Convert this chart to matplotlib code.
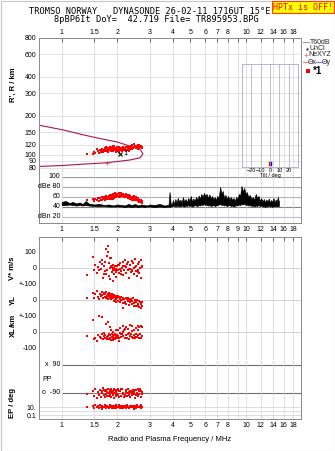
import matplotlib
matplotlib.use('Agg')
import numpy as np
import matplotlib.pyplot as plt
from matplotlib.ticker import NullLocator
from matplotlib.patches import Rectangle

plt.rcParams['font.family'] = ['Liberation Sans', 'DejaVu Sans']

W, H = 335, 451

################################
# data
freq_ticks = [1, 1.5, 2, 3, 4, 5, 6, 7, 8, 9, 10, 12, 14, 16, 18]
freq_labels = ['1', '1.5', '2', '3', '4', '5', '6', '7', '8', '9', '10', '12', '14', '16', '18']
range_ticks = [80, 90, 100, 120, 150, 200, 300, 400, 600, 800]
db_levels = [100, 80, 60, 40, 20]
db_labels = ['100', 'dBe 80', '60', '40', 'dBn 20']

# model profile (maroon curve)
prof_f = [0.75, 1.02, 1.31, 1.61, 2.00, 2.35, 2.66, 2.76, 2.66, 2.35, 2.00, 1.68, 1.31, 1.02, 0.75]
prof_r = [170, 156, 143, 134, 126, 117, 111, 102, 95, 91.5, 89, 86.7, 85, 83, 81.5]

# echoes (one entry per echo)
echo_f = [1.37, 1.47, 1.49, 1.52, 1.55, 1.58, 1.60, 1.62, 1.63, 1.65,
          1.66, 1.68, 1.70, 1.71, 1.72, 1.74, 1.75, 1.76, 1.78, 1.79,
          1.80, 1.81, 1.82, 1.83, 1.84, 1.85, 1.86, 1.87, 1.88, 1.89,
          1.90, 1.91, 1.92, 1.93, 1.94, 1.95, 1.96, 1.97, 1.98, 1.99,
          2.00, 2.02, 2.04, 2.06, 2.08, 2.10, 2.12, 2.14, 2.16, 2.18,
          2.20, 2.22, 2.24, 2.26, 2.28, 2.30, 2.32, 2.34, 2.36, 2.38,
          2.40, 2.42, 2.44, 2.46, 2.48, 2.50, 2.52, 2.54, 2.56, 2.58,
          2.60, 2.62, 2.64, 2.66, 2.68, 2.70, 2.72, 2.74, 1.69, 1.77,
          1.91, 2.01, 2.11, 2.21, 2.31, 2.41, 2.51, 2.61, 2.05, 2.15]
echo_r = [102, 102, 106, 104, 111, 108, 104, 110, 106, 108,
          112, 105, 109, 113, 107, 111, 115, 108, 112, 106,
          110, 114, 109, 116, 112, 107, 111, 115, 109, 113,
          108, 112, 117, 110, 114, 109, 113, 106, 111, 115,
          108, 110, 106, 112, 109, 114, 107, 111, 115, 109,
          112, 108, 116, 110, 113, 118, 111, 115, 112, 117,
          114, 119, 113, 116, 121, 115, 118, 114, 117, 120,
          116, 113, 119, 115, 118, 117, 114, 116, 108, 113,
          118, 113, 110, 114, 108, 112, 117, 112, 116, 113]
echo_amp = [54, 55, 51, 56, 53, 58, 52, 57, 54, 59,
            53, 58, 55, 60, 54, 57, 61, 55, 59, 56,
            62, 57, 60, 55, 63, 58, 61, 56, 64, 59,
            61, 66, 58, 63, 60, 67, 62, 59, 65, 61,
            66, 61, 68, 63, 60, 67, 64, 61, 66, 59,
            64, 59, 66, 61, 57, 63, 60, 56, 62, 58,
            60, 55, 58, 62, 54, 57, 53, 59, 55, 52,
            56, 50, 54, 49, 53, 51, 48, 52, 59, 55,
            56, 62, 61, 59, 64, 53, 60, 57, 59, 63]
echo_v = [-45, 67, -10, 20, -30, 5, -15, 40, -5, 25,
          50, -60, 10, -20, 35, -35, 120, -10, 140, 100,
          30, -50, 65, 0, -70, 15, 60, -25, 5, -80,
          -10, 20, -40, 0, -15, 10, -55, -5, -25, 15,
          -10, 20, -30, -5, 30, -20, 0, -45, 10, -15,
          50, -30, 5, 25, -10, 40, -60, -5, 20, -25,
          45, -15, 30, -40, 0, 55, -20, 10, -50, 25,
          -10, 35, -30, 0, 50, -60, 10, 5, -40, 75,
          -5, -15, -35, 15, -5, -20, 5, -25, 20, 35]
echo_yl = [15, 45, 10, 35, 55, 20, 5, 40, 25, 50,
           30, 10, 45, 20, 38, 15, 50, 25, 40, 8,
           28, 45, 12, 20, 35, 5, 25, 38, 15, 30,
           10, 25, -5, 30, 18, 2, 22, 8, -10, 28,
           15, -5, 20, 8, -15, 18, -2, -20, 12, 5,
           -10, 15, -25, 5, -8, 12, -30, 0, -15, 8,
           -5, -25, 10, -18, -35, 0, -12, -40, -2, -22,
           -30, -8, -45, -15, -25, -50, -10, -35, 35, 18,
           28, 22, 0, -20, 5, -28, -5, -40, 20, -50]
echo_xl = [-25, 75, -45, -35, -55, -20, 100, -30, -40, -15,
           95, -45, -25, -35, -20, -40, 50, -30, 60, -25,
           -10, -45, 30, -35, -20, -50, 10, -30, -15, -40,
           -25, 0, -35, -20, -45, -10, -30, 15, -25, -40,
           -20, 10, -35, -5, 25, -30, -15, 40, -25, 10,
           -40, -20, 30, -35, -10, 20, -45, -25, 45, -15,
           -30, 35, -40, -20, 15, -35, -10, 25, -30, 40,
           -20, -35, 30, -15, -40, 35, -25, 30, -5, -45,
           -50, -25, -10, 20, -5, 5, -30, 10, -55, 0]
echo_pp = [-95, -75, -110, -65, -120, -85, -100, -70, -115, -80,
           -90, -60, -105, -78, -118, -68, -98, -84, -112, -62,
           -92, -108, -72, -100, -86, -66, -116, -88, -74, -104,
           -82, -96, -120, -64, -90, -72, -110, -84, -102, -70,
           -94, -62, -114, -80, -76, -108, -66, -96, -88, -118,
           -104, -70, -84, -112, -92, -64, -100, -78, -116, -86,
           -74, -106, -68, -96, -82, -120, -72, -102, -90, -62,
           -110, -80, -94, -66, -114, -76, -98, -86, -70, -108,
           -78, -100, -64, -112, -84, -92, -68, -106, -74, -96]
echo_ep = [12, 20, 6, 30, 9, 15, 5, 25, 10, 4,
           18, 8, 12, 35, 11, 7, 14, 22, 9, 12,
           10, 6, 16, 11, 28, 9, 15, 5, 12, 8,
           11, 20, 10, 7, 14, 12, 40, 11, 6, 10,
           13, 9, 25, 12, 5, 15, 8, 11, 18, 14,
           10, 6, 12, 30, 11, 13, 7, 10, 22, 12,
           8, 14, 10, 4, 17, 9, 12, 6, 24, 13,
           11, 8, 9, 15, 35, 7, 12, 9, 11, 8,
           13, 10, 6, 20, 9, 11, 14, 8, 10, 7]

# noise/interference trace in the amplitude strip
noise_f = [1.00, 1.05, 1.10, 1.15, 1.20, 1.25, 1.30, 1.35, 1.40, 1.50,
           1.60, 1.70, 1.80, 1.90, 2.00, 2.10, 2.20, 2.30, 2.40, 2.50,
           2.60, 2.70, 2.80, 2.90, 3.00, 3.20, 3.40, 3.60, 3.80,
           3.85, 3.90, 3.95, 4.02, 4.08, 4.14, 4.20, 4.27, 4.34, 4.41,
           4.48, 4.55, 4.62, 4.70, 4.78, 4.86, 4.94, 5.02, 5.10, 5.18,
           5.27, 5.36, 5.45, 5.54, 5.63, 5.72, 5.82, 5.92, 6.02, 6.12,
           6.22, 6.33, 6.44, 6.55, 6.66, 6.77, 6.88, 7.00, 7.12, 7.24,
           7.36, 7.48, 7.61, 7.74, 7.87, 8.00, 8.14, 8.28, 8.42, 8.56,
           8.70, 8.85, 9.00, 9.15, 9.30, 9.46, 9.62, 9.78, 9.95, 10.1,
           10.3, 10.5, 10.7, 10.9, 11.1, 11.3, 11.5, 11.7, 11.9, 12.1,
           12.3, 12.5, 12.7, 12.9, 13.1, 13.3, 13.5, 13.7, 13.9, 14.1,
           14.3, 14.5, 14.7, 14.9, 15.1]
noise_lo = [44, 44, 45, 44, 43, 44, 43, 44, 43, 42,
            42, 42, 41, 41, 41, 41, 40, 41, 40, 41,
            40, 41, 40, 41, 41, 40, 41, 40, 41,
            40, 41, 42, 42, 43, 41, 42, 43, 41, 42,
            43, 42, 41, 43, 42, 44, 42, 43, 41, 42,
            44, 43, 42, 44, 43, 45, 44, 46, 44, 45,
            43, 44, 42, 43, 44, 42, 43, 44, 45, 46,
            44, 45, 43, 44, 42, 43, 44, 42, 43, 41,
            42, 44, 43, 45, 44, 46, 45, 47, 44, 45,
            43, 44, 42, 43, 41, 43, 42, 44, 42, 43,
            41, 42, 40, 42, 41, 43, 41, 42, 40, 42,
            41, 43, 41, 42, 42]
noise_hi = [50, 52, 48, 50, 47, 49, 46, 52, 47, 45,
            46, 44, 45, 43, 45, 44, 43, 46, 44, 46,
            43, 45, 44, 43, 45, 44, 46, 43, 44,
            70, 48, 44, 54, 46, 56, 48, 58, 50, 55,
            47, 60, 50, 56, 49, 58, 52, 62, 50, 57,
            52, 60, 54, 63, 56, 66, 60, 68, 62, 66,
            58, 65, 57, 62, 55, 60, 54, 62, 58, 80,
            66, 72, 58, 64, 56, 62, 55, 60, 54, 58,
            52, 60, 56, 66, 62, 82, 70, 78, 66, 70,
            60, 64, 56, 60, 54, 66, 58, 62, 52, 58,
            50, 56, 49, 55, 50, 57, 49, 54, 50, 58,
            48, 55, 50, 60, 50]

# tilt inset (x, y tilt of the *1 echo)
tilt_deg = [-1, 1]
tilt_range = [84, 89]
tilt_ticks = [-20, -10, 0, 10, 20]


def rect(x0, y0, x1, y1):
    return [x0 / W, 1 - y1 / H, (x1 - x0) / W, (y1 - y0) / H]


def freq_axis(ax):
    ax.set_xscale('log')
    ax.set_xlim(0.753, 19.9)
    ax.set_xticks(freq_ticks)
    ax.xaxis.set_minor_locator(NullLocator())
    ax.grid(axis='x', color='#d4d4d4', lw=0.5)
    for s in ax.spines.values():
        s.set_color('#8a8a8a')
        s.set_linewidth(0.7)


fig = plt.figure(figsize=(W / 100, H / 100), dpi=100)

# ---- range panel
ax_r = fig.add_axes(rect(39, 38, 301, 177))
freq_axis(ax_r)
ax_r.set_xticklabels(['' if t == 9 else l for t, l in zip(freq_ticks, freq_labels)])
ax_r.tick_params(axis='x', top=True, labeltop=True, bottom=False, labelbottom=False,
                 direction='in', length=3, width=0.6, color='#555555', labelsize=5, pad=1.5)
ax_r.set_yscale('log')
ax_r.set_ylim(67.6, 800)
ax_r.set_yticks(range_ticks)
ax_r.set_yticklabels([str(t) for t in range_ticks])
ax_r.yaxis.set_minor_locator(NullLocator())
ax_r.tick_params(axis='y', length=0, labelsize=5, pad=2)
ax_r.grid(axis='y', color='#d8d8d8', lw=0.5)
ax_r.spines['bottom'].set_visible(False)
ax_r.plot(prof_f, prof_r, color='#a8184a', lw=0.8, zorder=2)
ax_r.scatter(echo_f, echo_r, s=3, c='red', marker='s', linewidths=0, zorder=3)
ax_r.plot([1.76], [86.7], marker='+', color='#e05090', ms=3, mew=0.7, zorder=3)
ax_r.plot([2.07], [101.8], marker='x', color='black', ms=3, mew=0.8, zorder=4)
ax_r.text(2.16, 101.8, '1', fontsize=5.5, va='center', ha='left', zorder=4)

# ---- amplitude strip
ax_d = fig.add_axes(rect(39, 177, 301, 223))
freq_axis(ax_d)
ax_d.set_xticklabels(freq_labels)
ax_d.tick_params(axis='x', length=0, labelsize=5, pad=2.5)
ax_d.set_ylim(8, 100)
ax_d.set_yticks([])
ax_d.spines['top'].set_visible(False)
db_colors = ['#999999', '#aaaaaa', '#b4b4b4', '#808080', '#b8b8e8']
for lev, lab, c in zip(db_levels, db_labels, db_colors):
    ax_d.plot([1.0, 19.9], [lev, lev], color=c, lw=0.8, zorder=1)
    ax_d.text(0.985, lev, lab, fontsize=5, ha='right', va='center')
ax_d.fill_between(noise_f, noise_lo, noise_hi, color='black', lw=0.5, zorder=2)
ax_d.scatter(echo_f, echo_amp, s=3, c='red', marker='s', linewidths=0, zorder=3)

# ---- tilt inset
ax_t = fig.add_axes(rect(242, 64, 298, 167))
ax_t.patch.set_alpha(0)
ax_t.set_xlim(-30, 30)
ax_t.set_yscale('log')
ax_t.set_ylim(80.8, 506)
ax_t.yaxis.set_major_locator(NullLocator())
ax_t.yaxis.set_minor_locator(NullLocator())
ax_t.set_xticks(tilt_ticks)
ax_t.tick_params(axis='x', length=0, labelsize=4, pad=0.8)
for t in tilt_ticks:
    ax_t.axvline(t, color='#b4b4cc', lw=0.6)
for s in ax_t.spines.values():
    s.set_color('#b4b4cc')
    s.set_linewidth(0.7)
ax_t.set_xlabel('Tilt / deg', fontsize=4, labelpad=0)
ax_t.plot([tilt_deg[0]] * 2, tilt_range, color='red', lw=1.0)
ax_t.plot([tilt_deg[1]] * 2, tilt_range, color='blue', lw=1.0)

# ---- lower panel: V*, YL, XL, PP, EP stacked on one axis
V0, YL0, XL0 = 943.75, 743.75, 543.75
PP_X90, PP_O90 = 337.5, 162.5


def pp_y(v):
    return PP_O90 + (np.asarray(v) + 90) * (PP_X90 - PP_O90) / 180


def ep_y(v):
    return 25 + (np.log10(v) + 1) * 25


ax_l = fig.add_axes(rect(39, 237, 301, 419))
freq_axis(ax_l)
ax_l.set_xticklabels(['' if t == 9 else l for t, l in zip(freq_ticks, freq_labels)])
ax_l.tick_params(axis='x', top=True, bottom=False, direction='in', length=3, width=0.6,
                 color='#555555', labelsize=5, pad=2.5)
ax_l.set_ylim(0, 1137.5)
yt = [V0 + 100, V0, V0 - 100, YL0, YL0 - 100, XL0, XL0 - 100, ep_y(10), ep_y(0.1)]
ax_l.set_yticks(yt)
ax_l.set_yticklabels(['100', '0', '+-100', '0', '+-100', '0', '-100', '10.', '0.1'])
ax_l.tick_params(axis='y', length=0, labelsize=5, pad=2)
for lev in [V0, YL0, XL0]:
    ax_l.axhline(lev, color='#cccccc', lw=0.6, zorder=1)
for lev in [ep_y(10), ep_y(1), ep_y(0.1)]:
    ax_l.axhline(lev, color='#d8d8d8', lw=0.6, zorder=1)
for lev in [PP_X90, PP_O90]:
    ax_l.plot([1.0, 19.9], [lev, lev], color='#6e6e6e', lw=0.8, zorder=1)
ax_l.text(0.985, PP_X90, 'x  90', fontsize=5, ha='right', va='center')
ax_l.text(0.985, PP_O90, 'o  -90', fontsize=5, ha='right', va='center')
ax_l.text(0.79, (PP_X90 + PP_O90) / 2 - 5, 'PP', fontsize=5, ha='left', va='center')

ef = np.array(echo_f)
kw = dict(s=3, c='red', marker='s', linewidths=0, zorder=3)
ax_l.scatter(ef, V0 + np.array(echo_v), **kw)
ax_l.scatter(ef, YL0 + np.array(echo_yl), **kw)
ax_l.scatter(ef, XL0 + np.array(echo_xl), **kw)
ax_l.scatter(ef, pp_y(echo_pp), **kw)
ax_l.scatter(ef, ep_y(np.array(echo_ep)), **kw)
ax_l.set_xlabel('Radio and Plasma Frequency / MHz', fontsize=5.5, labelpad=5)

# ---- overlay for titles, axis names and the legend (pixel coordinates)
ax_o = fig.add_axes([0, 0, 1, 1], zorder=10)
ax_o.set_xlim(0, W)
ax_o.set_ylim(H, 0)
ax_o.axis('off')
ax_o.add_patch(Rectangle((0.5, 0.5), W - 1, H - 1, fill=False, ec='#c8c8c8', lw=0.8))

mono = dict(family='DejaVu Sans Mono', fontsize=6.2, ha='center', va='center')
ax_o.text(150, 12, 'TROMSO NORWAY   DYNASONDE 26-02-11 1716UT 15\u00b0E', **mono)
ax_o.text(156, 20, '8pBP6It DoY=  42.719 File= TR895953.BPG', **mono)
ax_o.text(303, 7, 'HPTx is OFF!', family='DejaVu Sans Mono', fontsize=6, color='red',
          ha='center', va='center',
          bbox=dict(boxstyle='square,pad=0.15', fc='#ffff00', ec='#ff4000', lw=0.8))

side = dict(fontsize=5.5, rotation=90, ha='center', va='center', weight='bold')
ax_o.text(13, 85, "R', R / km", **side)
ax_o.text(13, 268, 'V* m/s', **side)
ax_o.text(13, 300, 'YL', **side)
ax_o.text(13, 320, '/km', **side)
ax_o.text(13, 332, 'XL', **side)
ax_o.text(13, 403, 'EP / deg', **side)

# legend
lg = dict(fontsize=5, ha='left', va='center', color='#222222')
ax_o.plot([303, 309], [42, 42], color='#a0a0a0', lw=0.8)
ax_o.text(310, 42, 'T60dB', **lg)
ax_o.plot([306.5], [48.5], marker='.', color='#444444', ms=1.5)
ax_o.text(310, 48.5, 'UnCl', **lg)
ax_o.plot([306], [55], marker='+', color='#ff7aa0', ms=3.5, mew=0.7)
ax_o.text(308.5, 55, 'NeXYZ', **lg)
ax_o.plot([303, 307.5], [62, 62], color='#ff7a7a', lw=0.8)
ax_o.text(308, 62, '\u0398x', **lg)
ax_o.plot([315.5, 321.5], [62, 62], color='#7a7aff', lw=0.8)
ax_o.text(322, 62, '\u0398y', **lg)
ax_o.plot([307.5], [71], marker='s', color='red', ms=2.5, mew=0)
ax_o.text(312.5, 71.5, '*1', fontsize=7, weight='bold', ha='left', va='center')

fig.savefig('out.png', dpi=100)
